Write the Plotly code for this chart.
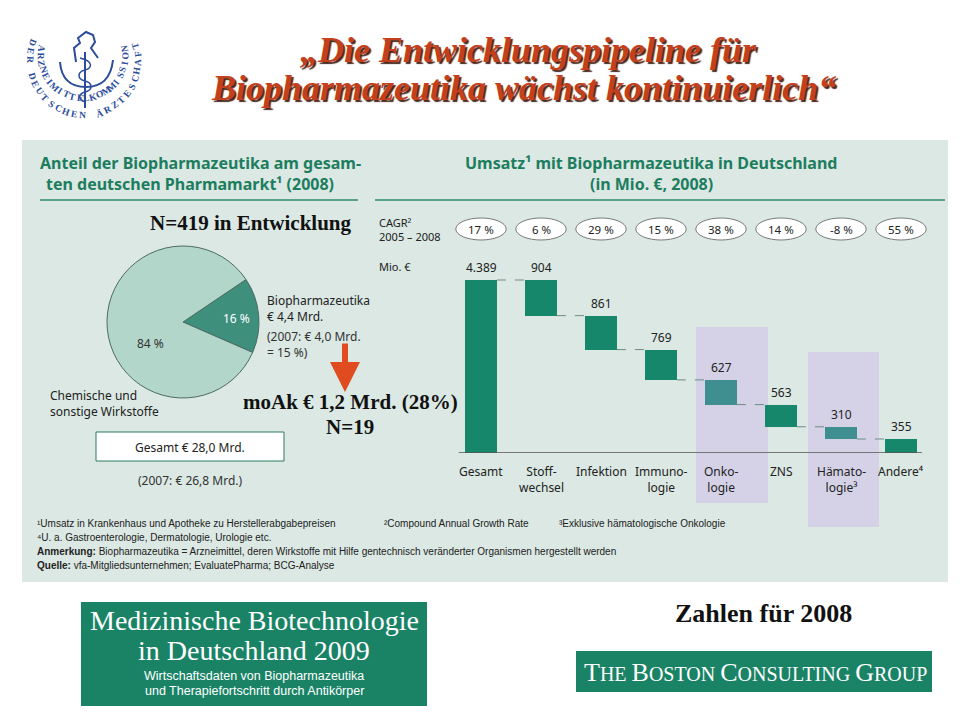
"""Biopharmazeutika: Marktanteil und Umsatz nach Indikation (2008)"""

import math

import plotly.graph_objects as go

# Daten
CATEGORIES = [
    "Gesamt",
    "Stoff-<br>wechsel",
    "Infektion",
    "Immuno-<br>logie",
    "Onko-<br>logie",
    "ZNS",
    "Hämato-<br>logie³",
    "Andere⁴",
]
SALES_MIO = [4389, 904, 861, 769, 627, 563, 310, 355]
CAGR_PCT = [17, 6, 29, 15, 38, 14, -8, 55]
HIGHLIGHT = [False, False, False, False, True, False, True, False]

PIE_LABELS = ["Biopharmazeutika", "Chemische und sonstige Wirkstoffe"]
PIE_SHARE = [16, 84]

# Stil
W, H = 960, 720
SANS = "Noto Sans, Open Sans, sans-serif"
NARROW = "Liberation Sans, Arial, sans-serif"
SERIF = "Liberation Serif, Times New Roman, serif"
GREEN = "#1d7d5f"
BAR_COLOR = "#17876c"
BAR_COLOR_HL = "#3f8f90"
PANEL = "#dbe8e3"
LAVENDER = "#d5d2e8"
BOX_GREEN = "#1a8366"
TITLE_RED = "#c4401c"
LOGO_BLUE = "#2b4c9b"
TEXT = "#222222"


def px(x: float) -> float:
    return x / W


def py(y: float) -> float:
    return 1 - y / H


def label(x, y, text, size=12, color=TEXT, family=SANS, anchor="left", **font_kw):
    return dict(
        x=px(x),
        y=py(y),
        xref="paper",
        yref="paper",
        text=text,
        showarrow=False,
        xanchor=anchor,
        yanchor="middle",
        font=dict(family=family, size=size, color=color, **font_kw),
    )


def rect(x0, y0, x1, y1, fill, line_color=None, line_width=0):
    return dict(
        type="rect",
        xref="paper",
        yref="paper",
        x0=px(x0),
        x1=px(x1),
        y0=py(y1),
        y1=py(y0),
        fillcolor=fill,
        line=dict(color=line_color or fill, width=line_width),
        layer="below",
    )


def hline(x0, x1, y, color, width=1.5):
    return dict(
        type="line",
        xref="paper",
        yref="paper",
        x0=px(x0),
        x1=px(x1),
        y0=py(y),
        y1=py(y),
        line=dict(color=color, width=width),
    )


def pixel_path(points: str) -> str:
    """'M 10 20 L 30 40' in Pixeln -> Pfad in Paper-Koordinaten"""
    out = []
    tokens = points.split()
    i = 0
    while i < len(tokens):
        t = tokens[i]
        if t.isalpha():
            out.append(t)
            i += 1
        else:
            out.append(f"{px(float(t)):.5f},{py(float(tokens[i + 1])):.5f}")
            i += 2
    return " ".join(out)


def arc_letters(text, cx, cy, r, a0, a1, size):
    """Buchstaben entlang eines Kreisbogens (Logo)"""
    anns = []
    n = len(text)
    for k, ch in enumerate(text):
        if ch == " ":
            continue
        theta = a0 + (a1 - a0) * k / (n - 1)
        rad = math.radians(theta)
        angle = -(theta + 90)
        angle = (angle + 180) % 360 - 180
        anns.append(
            dict(
                x=px(cx + r * math.cos(rad)),
                y=py(cy - r * math.sin(rad)),
                xref="paper",
                yref="paper",
                text=ch,
                showarrow=False,
                textangle=angle,
                xanchor="center",
                yanchor="middle",
                font=dict(family=SERIF, size=size, color=LOGO_BLUE, weight="bold"),
            )
        )
    return anns


def fmt_de(v: int) -> str:
    return f"{v:,}".replace(",", ".")


# Wasserfall: Basis und Oberkante jedes Balkens
bases = [0]
tops = [SALES_MIO[0]]
level = SALES_MIO[0]
for v in SALES_MIO[1:]:
    tops.append(level)
    bases.append(level - v)
    level -= v

idx = list(range(len(CATEGORIES)))
bar_colors = [BAR_COLOR_HL if h else BAR_COLOR for h in HIGHLIGHT]
BAR_W = 0.53

conn_x, conn_y = [], []
for i in idx[:-1]:
    conn_x += [i + BAR_W / 2, i + 1 - BAR_W / 2, None]
    conn_y += [tops[i + 1], tops[i + 1], None]

fig = go.Figure()

fig.add_trace(
    go.Pie(
        values=PIE_SHARE,
        labels=PIE_LABELS,
        sort=False,
        direction="clockwise",
        rotation=56,
        marker=dict(colors=["#3e8f7c", "#b3d6cb"], line=dict(color="#4d6b63", width=1)),
        textinfo="none",
        hoverinfo="label+percent",
        domain=dict(x=[px(107), px(259)], y=[py(398), py(246)]),
        showlegend=False,
    )
)

fig.add_trace(
    go.Bar(
        x=idx,
        y=SALES_MIO,
        base=bases,
        width=BAR_W,
        marker=dict(color=bar_colors, line=dict(width=0)),
        hovertemplate="%{y}<extra></extra>",
    )
)

fig.add_trace(
    go.Scatter(
        x=conn_x,
        y=conn_y,
        mode="lines",
        line=dict(color="#6e8c84", width=1, dash="dash"),
        hoverinfo="skip",
    )
)

shapes = [
    rect(22, 140, 948, 582, PANEL),
    rect(696, 327, 768, 503, LAVENDER),
    rect(808, 352, 879, 527, LAVENDER),
    hline(40, 358, 200, "#2e8a6a"),
    hline(375, 945, 200, "#2e8a6a"),
    dict(
        type="rect", xref="paper", yref="paper",
        x0=px(96), x1=px(284), y0=py(461), y1=py(432),
        fillcolor="white", line=dict(color="#2c7a64", width=1),
    ),
    dict(
        type="line", xref="x", yref="y",
        x0=-0.37, x1=7.35, y0=0, y1=0,
        line=dict(color="#555555", width=1.5),
    ),
    rect(81, 602, 427, 706, BOX_GREEN),
    rect(576, 651, 932, 692, BOX_GREEN),
]

# CAGR-Ellipsen
for i in idx:
    shapes.append(
        dict(
            type="circle", xref="x", yref="paper",
            x0=i - 0.42, x1=i + 0.42, y0=py(240), y1=py(218),
            fillcolor="white", line=dict(color="#7a7a7a", width=1),
        )
    )

# Logo (Adler, Bogen, Äskulapstab)
shapes += [
    dict(
        type="path", xref="paper", yref="paper",
        path=pixel_path("M 76 62 L 74 48 L 80 43 L 78 38 L 86 32 L 93 35 L 95 42 L 91 48 L 98 58"),
        line=dict(color=LOGO_BLUE, width=2),
    ),
    dict(
        type="path", xref="paper", yref="paper",
        path=pixel_path("M 60 62 Q 62 87 86 87 Q 110 87 113 60"),
        line=dict(color=LOGO_BLUE, width=2),
    ),
    dict(
        type="line", xref="paper", yref="paper",
        x0=px(85), x1=px(85), y0=py(52), y1=py(108),
        line=dict(color=LOGO_BLUE, width=2),
    ),
    dict(
        type="path", xref="paper", yref="paper",
        path=pixel_path(
            "M 80 58 C 93 61 93 68 85 70 C 77 72 77 79 85 81 "
            "C 93 83 93 90 85 92 C 78 94 78 99 85 102"
        ),
        line=dict(color=LOGO_BLUE, width=1.5),
    ),
]

annotations = []
annotations += arc_letters("ARZNEIMITTELKOMMISSION", 83, 56, 42, 170, 370, 9.5)
annotations += arc_letters("DER DEUTSCHEN ÄRZTESCHAFT", 84, 61, 54, 160, 377, 9.5)

# Titel mit Schatten
title_font = dict(weight="bold", style="italic", shadow="2px 2px 1px #4a2a20")
annotations += [
    label(528, 50, "„Die Entwicklungspipeline für", 36, TITLE_RED, SERIF, "center", **title_font),
    label(523, 88, "Biopharmazeutika wächst kontinuierlich“", 36, TITLE_RED, SERIF, "center", **title_font),
]

# Überschriften
annotations += [
    label(200, 163, "Anteil der Biopharmazeutika am gesam-", 16, GREEN, SANS, "center", weight="bold"),
    label(190, 184, "ten deutschen Pharmamarkt¹ (2008)", 16, GREEN, SANS, "center", weight="bold"),
    label(651, 163, "Umsatz¹ mit Biopharmazeutika in Deutschland", 16, GREEN, SANS, "center", weight="bold"),
    label(651, 184, "(in Mio. €, 2008)", 16, GREEN, SANS, "center", weight="bold"),
    label(251, 223, "N=419 in Entwicklung", 21, "#111111", SERIF, "center", weight="bold"),
    label(377, 222, "CAGR²", 11, TEXT),
    label(377, 237, "2005 – 2008", 11, TEXT),
    label(377, 266, "Mio. €", 11, TEXT),
]

# Kreisdiagramm-Beschriftungen
annotations += [
    label(236, 318, f"{PIE_SHARE[0]} %", 12, "white", SANS, "center"),
    label(150, 343, f"{PIE_SHARE[1]} %", 12, "#333333", SANS, "center"),
    label(265, 300, "Biopharmazeutika", 12, TEXT),
    label(265, 316, "€ 4,4 Mrd.", 12, TEXT),
    label(265, 336, "(2007: € 4,0 Mrd.", 12, "#333333"),
    label(265, 352, "= 15 %)", 12, "#333333"),
    label(48, 395, "Chemische und", 12, TEXT),
    label(48, 411, "sonstige Wirkstoffe", 12, TEXT),
    label(190, 447, "Gesamt € 28,0 Mrd.", 12, TEXT, SANS, "center"),
    label(190, 480, "(2007: € 26,8 Mrd.)", 12, "#333333", SANS, "center"),
    label(350, 402, "moAk € 1,2 Mrd. (28%)", 21, "#111111", SERIF, "center", weight="bold"),
    label(350, 427, "N=19", 21, "#111111", SERIF, "center", weight="bold"),
]

# roter Pfeil
annotations.append(
    dict(
        x=px(345), y=py(392), xref="paper", yref="paper",
        ax=0, ay=-50, text="", showarrow=True,
        arrowhead=2, arrowsize=1, arrowwidth=6, arrowcolor="#e04b1f",
    )
)

# Wasserfall-Beschriftungen
for i in idx:
    annotations.append(
        dict(
            x=i, y=tops[i], xref="x", yref="y",
            text=fmt_de(SALES_MIO[i]), showarrow=False,
            yanchor="bottom", yshift=2,
            font=dict(family=SANS, size=12, color=TEXT),
        )
    )
    annotations.append(
        dict(
            x=i, y=0, xref="x", yref="y",
            text=CATEGORIES[i], showarrow=False,
            yanchor="top", yshift=-8,
            font=dict(family=SANS, size=12, color=TEXT),
        )
    )
    annotations.append(
        dict(
            x=i, y=py(229), xref="x", yref="paper",
            text=f"{CAGR_PCT[i]} %", showarrow=False,
            yanchor="middle",
            font=dict(family=SANS, size=11.5, color=TEXT),
        )
    )

# Fußnoten
annotations += [
    label(35, 523, "¹Umsatz in Krankenhaus und Apotheke zu Herstellerabgabepreisen", 10, TEXT, NARROW),
    label(382, 523, "²Compound Annual Growth Rate", 10, TEXT, NARROW),
    label(557, 523, "³Exklusive hämatologische Onkologie", 10, TEXT, NARROW),
    label(35, 537, "⁴U. a. Gastroenterologie, Dermatologie, Urologie etc.", 10, TEXT, NARROW),
    label(
        35, 551,
        "<b>Anmerkung:</b> Biopharmazeutika = Arzneimittel, deren Wirkstoffe mit Hilfe "
        "gentechnisch veränderter Organismen hergestellt werden",
        10, TEXT, NARROW,
    ),
    label(35, 565, "<b>Quelle:</b> vfa-Mitgliedsunternehmen; EvaluatePharma; BCG-Analyse", 10, TEXT, NARROW),
]

# Fußbereich
annotations += [
    label(254, 620, "Medizinische Biotechnologie", 28, "white", SERIF, "center"),
    label(254, 650, "in Deutschland 2009", 28, "white", SERIF, "center"),
    label(254, 676, "Wirtschaftsdaten von Biopharmazeutika", 12.5, "white", NARROW, "center"),
    label(254, 691, "und Therapiefortschritt durch Antikörper", 12.5, "white", NARROW, "center"),
    label(763, 613, "Zahlen für 2008", 26, "#111111", SERIF, "center", weight="bold"),
    label(
        755, 672,
        "<span style='font-size:26px'>T</span>HE "
        "<span style='font-size:26px'>B</span>OSTON "
        "<span style='font-size:26px'>C</span>ONSULTING "
        "<span style='font-size:26px'>G</span>ROUP",
        20, "white", SERIF, "center",
    ),
]

fig.update_layout(
    width=W,
    height=H,
    margin=dict(l=0, r=0, t=0, b=0),
    paper_bgcolor="white",
    plot_bgcolor="rgba(0,0,0,0)",
    showlegend=False,
    xaxis=dict(
        domain=[px(451), px(931)],
        range=[-0.5, 7.5],
        visible=False,
        fixedrange=True,
    ),
    yaxis=dict(
        domain=[py(453), py(253)],
        range=[0, 200 * 4389 / 173],
        visible=False,
        fixedrange=True,
    ),
    shapes=shapes,
    annotations=annotations,
    bargap=0,
)

fig.write_html(
    "out.html",
    config={"displayModeBar": False},
    post_script="document.body.style.margin = '0';",
)
